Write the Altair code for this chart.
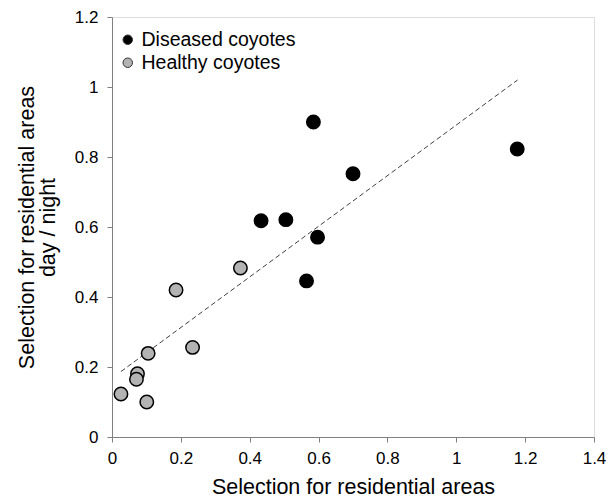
import altair as alt
import pandas as pd

# Diseased coyotes
dis_x = [1.177, 0.585, 0.700, 0.433, 0.505, 0.597, 0.565]
dis_y = [0.823, 0.900, 0.752, 0.618, 0.621, 0.571, 0.446]
# Healthy coyotes
hea_x = [0.373, 0.186, 0.234, 0.105, 0.074, 0.071, 0.026, 0.101]
hea_y = [0.483, 0.420, 0.256, 0.239, 0.181, 0.165, 0.123, 0.100]
# Trend line endpoints
trend_x = [0.026, 1.178]
trend_y = [0.187, 1.020]

groups = ["Diseased coyotes", "Healthy coyotes"]
x_ticks = [0, 0.2, 0.4, 0.6, 0.8, 1, 1.2, 1.4]
y_ticks = [0, 0.2, 0.4, 0.6, 0.8, 1, 1.2]

pts = pd.DataFrame({
    "x": dis_x + hea_x,
    "y": dis_y + hea_y,
    "group": [groups[0]] * len(dis_x) + [groups[1]] * len(hea_x),
})
trend = pd.DataFrame({"x": trend_x, "y": trend_y})

FONT = "Liberation Sans"

xscale = alt.Scale(domain=[0, 1.4], nice=False, zero=False)
yscale = alt.Scale(domain=[0, 1.2], nice=False, zero=False)

xaxis = alt.Axis(values=x_ticks, format="~g", title="Selection for residential areas",
                 grid=False, labelFontSize=17, titleFontSize=21.5, titleFontWeight="normal",
                 labelFont=FONT, titleFont=FONT, labelColor="black", titleColor="black",
                 domainColor="#808080", tickColor="#808080", tickSize=5, labelPadding=8,
                 titlePadding=10, labelFlush=False)
yaxis = alt.Axis(values=y_ticks, format="~g",
                 title=["Selection for residential areas", "day / night"],
                 grid=False, labelFontSize=17, titleFontSize=21.5, titleFontWeight="normal",
                 labelFont=FONT, titleFont=FONT, labelColor="black", titleColor="black",
                 domainColor="#808080", tickColor="#808080", tickSize=5, labelPadding=9,
                 titlePadding=15, titleLineHeight=21, labelFlush=False)

line = alt.Chart(trend).mark_line(color="#404040", strokeDash=[5, 3], strokeWidth=1).encode(
    x=alt.X("x:Q", scale=xscale, axis=xaxis),
    y=alt.Y("y:Q", scale=yscale, axis=yaxis),
)

points = alt.Chart(pts).mark_point(filled=True, size=180, opacity=1, stroke="black", strokeWidth=1.5).encode(
    x=alt.X("x:Q", scale=xscale),
    y=alt.Y("y:Q", scale=yscale),
    fill=alt.Fill("group:N", scale=alt.Scale(domain=groups, range=["black", "#b3b3b3"]),
                  legend=alt.Legend(title=None, orient="none", legendX=6, legendY=13,
                                    labelFont=FONT, labelFontSize=19.5, labelColor="black",
                                    symbolSize=90, symbolStrokeColor="#333333", symbolStrokeWidth=1,
                                    rowPadding=2, labelOffset=4, symbolType="circle")),
)

chart = (line + points).properties(
    width=482, height=420,
    autosize=alt.AutoSizeParams(type="none"),
    padding={"left": 104, "top": 9, "right": 12, "bottom": 62},
).configure_view(stroke=None).configure(background="white")

chart.save("out.html", embed_options={"renderer": "svg", "actions": False})
